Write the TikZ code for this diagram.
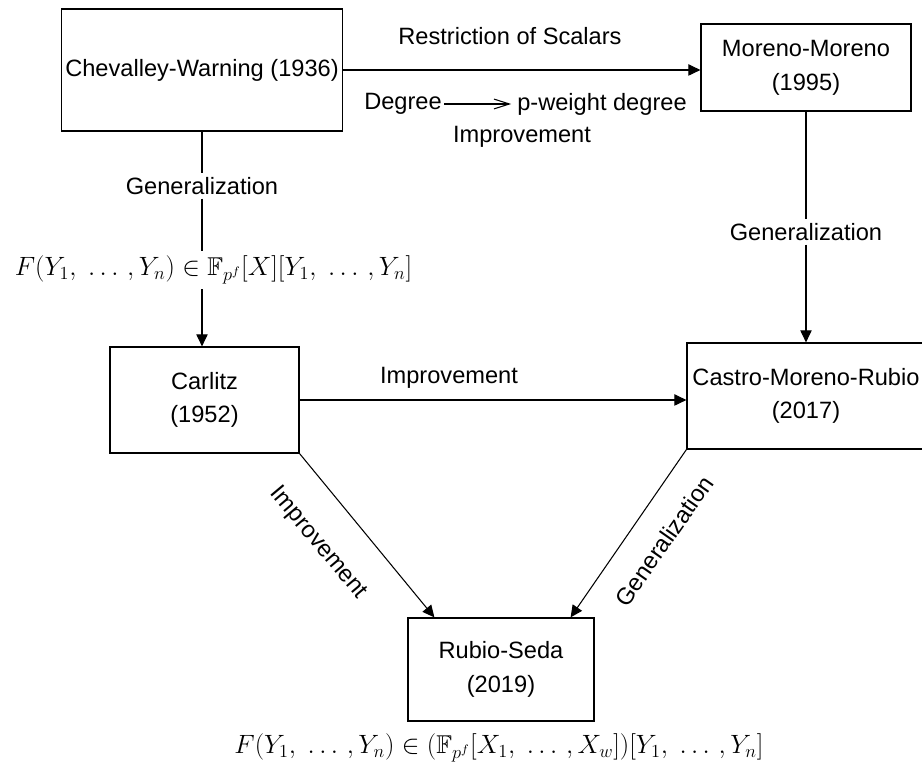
\documentclass[tikz,border=0pt]{standalone}
\usepackage{amsmath, amsfonts}
\usepackage{fontspec}
\setmainfont{Liberation Sans}
\usepackage{tikz}
\usetikzlibrary{arrows.meta,calc}

\begin{document}
\begin{tikzpicture}[line width=0.75pt,
    every node/.style={font=\fontsize{16.8}{24}\selectfont},
    box/.style={draw, line width=0.85pt, align=center, inner sep=0pt},
    lbl/.style={inner sep=2.5pt},
    formula/.style={inner sep=3pt, scale=1.09, transform shape},
    arr/.style={-{Triangle[length=8.5pt, width=8pt]}}]
      \useasboundingbox (0, 0) rectangle (23.05, 19.4);
      \node[box, minimum width=7.025cm, minimum height=3.05cm] (cw)
        at (5.05, 17.65) {Chevalley-Warning (1936)};
      \node[box, minimum width=5.25cm, minimum height=2.175cm] (mm)
        at (20.15, 17.7125) {Moreno-Moreno\\(1995)};
      \node[box, minimum width=4.725cm, minimum height=2.65cm] (carlitz)
        at (5.1125, 9.4) {Carlitz\\(1952)};
      \node[box, minimum width=5.95cm, minimum height=2.65cm] (cmr)
        at (20.15, 9.5) {Castro-Moreno-Rubio\\(2017)};
      \node[box, minimum width=4.65cm, minimum height=2.575cm] (rs)
        at (12.525, 2.6625) {Rubio-Seda\\(2019)};
      \node[lbl] (scalars) at (12.75, 18.5) {Restriction of Scalars};
      \node[lbl, inner sep=1.5pt] (deg) at (10.075, 16.8) {Degree};
      \node[lbl, inner sep=4pt] (pw) at (15.05, 16.8) {p-weight degree};
      \node[lbl] (imp1) at (13.05, 15.975) {Improvement};
      \node[lbl] (gen1) at (5.05, 14.75) {Generalization};
      \node[formula] (f1) at (5.3375, 12.65)
        {$F(Y_1,\ \ldots\,, Y_n) \in \mathbb{F}_{p^f}[X][Y_1,\ \ldots\,, Y_n]$};
      \node[lbl] (gen2) at (20.15, 13.6) {Generalization};
      \node[lbl] (imp2) at (11.225, 9.95) {Improvement};
      \node[lbl, rotate=-50] (imp3) at (7.95, 5.825) {Improvement};
      \node[lbl, rotate=55] (gen3) at (16.6, 5.875) {Generalization};
      \node[formula] (f2) at (12.475, 0.7)
        {$F(Y_1,\ \ldots\,, Y_n) \in (\mathbb{F}_{p^f}[X_1,\ \ldots\,, X_w])[Y_1,\ \ldots\,, Y_n]$};
      \draw[arr] (cw.east) -- (cw.east -| mm.west);
      \draw[-{Straight Barb[length=11pt, width=7pt]}] (deg) -- (pw);
      \draw (cw) -- (gen1);
      \draw (gen1) -- (gen1 |- f1.north);
      \draw[arr] (gen1 |- f1.south) -- (gen1 |- carlitz.north);
      \draw (mm) -- (gen2);
      \draw[arr] (gen2) -- (cmr);
      \draw[arr] (carlitz.east) -- (carlitz.east -| cmr.west);
      \draw[arr] (carlitz.south east) -- ([xshift=0.675cm]rs.north west);
      \draw[arr] (cmr.south west) -- ([xshift=-0.6cm]rs.north east);
    \end{tikzpicture}
\end{document}
